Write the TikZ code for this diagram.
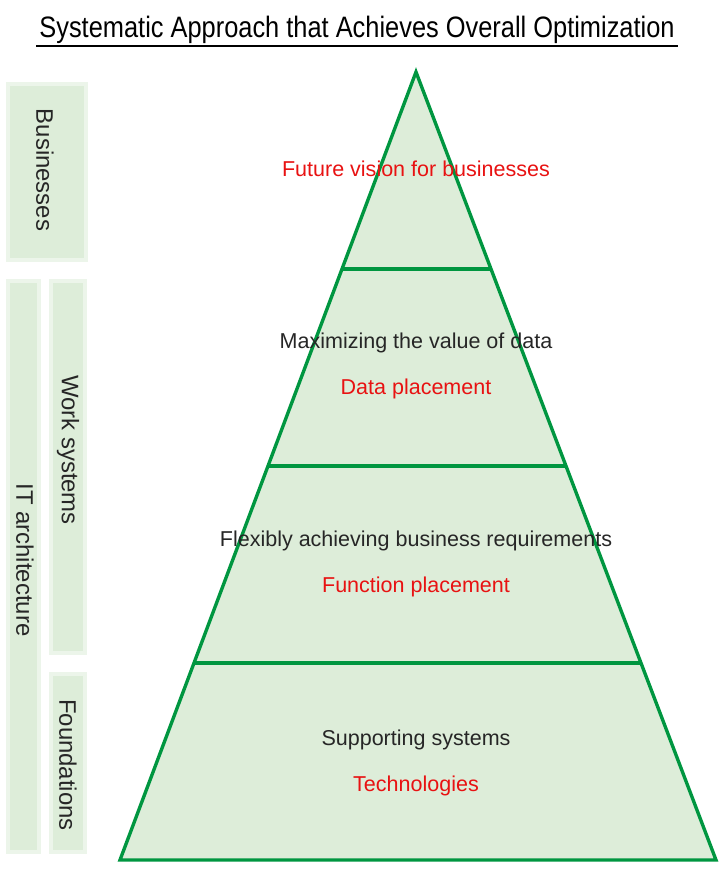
\documentclass[tikz,border=0pt]{standalone}
\usepackage{fontspec}
\setmainfont{Liberation Sans}
\newfontfamily\titlefont[FakeStretch=0.86]{Liberation Sans}
\usepackage{xcolor}
\usetikzlibrary{positioning, calc}
\definecolor{pyrgreen}{RGB}{0,150,64}
\definecolor{pyrfill}{RGB}{221,237,217}
\definecolor{pyrred}{RGB}{232,18,18}
\tikzstyle{heading} = [inner xsep=2pt, inner ysep=0pt,
text depth=0pt,
font=\titlefont\fontsize{21}{25}\selectfont]
\tikzstyle{rule} = [line width=1.4pt, black]
\tikzstyle{band} = [fill=pyrfill, draw=pyrfill!55, line width=2.5pt]
\tikzstyle{bandlabel} = [rotate=-90, inner sep=0pt,
font=\fontsize{17}{20}\selectfont,
text=black!85]
\tikzstyle{layer} = [draw=pyrgreen, line width=2.4pt, fill=pyrfill, line join=miter]
\tikzstyle{divider} = [draw=pyrgreen, line width=2.4pt]
\tikzstyle{aim} = [inner sep=0pt, text height=11pt, text depth=3pt,
font=\fontsize{15.3}{18}\selectfont, text=black!85]
\tikzstyle{means} = [aim, text=pyrred]

\begin{document}
\begin{tikzpicture}[x=0.025cm, y=-0.025cm, node distance=0.63cm]
        \useasboundingbox (0,0) rectangle (720,880);

        % --- Title ---
        \node (title) [heading, anchor=base] at (357,38) {Systematic Approach that Achieves Overall Optimization};
        \draw [rule] ([yshift=-0.2cm]title.south west) -- ([yshift=-0.2cm]title.south east);

        % --- Left bands ---
        \filldraw [band] (8,84) rectangle (86,260);
        \filldraw [band] (8,281) rectangle (39,852);
        \filldraw [band] (51,281) rectangle (85,653);
        \filldraw [band] (51,674) rectangle (85,852);

        \node (businesses) [bandlabel] at (45,170) {Businesses};
        \node (work) [bandlabel] at (68,450) {Work systems};
        \node (itarch) [bandlabel] at (25,560) {IT architecture};
        \node (foundations) [bandlabel] at (68,765) {Foundations};

        % --- Pyramid ---
        \coordinate (apex) at (416,72);
        \coordinate (baseL) at (120,860);
        \coordinate (baseR) at (716,860);
        \filldraw [layer] (apex) -- (baseR) -- (baseL) -- cycle;
        \foreach \f in {0.25,0.5,0.75}
            \draw [divider] ($(apex)!\f!(baseL)$) -- ($(apex)!\f!(baseR)$);

        % --- Layer texts ---
        \node (vision) [means] at (416,171) {Future vision for businesses};

        \node (valueaim) [aim] at (416,343) {Maximizing the value of data};
        \node (datapl) [means, below=of valueaim] {Data placement};

        \node (flexaim) [aim] at (416,541) {Flexibly achieving business requirements};
        \node (funcpl) [means, below=of flexaim] {Function placement};

        \node (supportaim) [aim] at (416,740) {Supporting systems};
        \node (tech) [means, below=of supportaim] {Technologies};

\end{tikzpicture}
\end{document}
